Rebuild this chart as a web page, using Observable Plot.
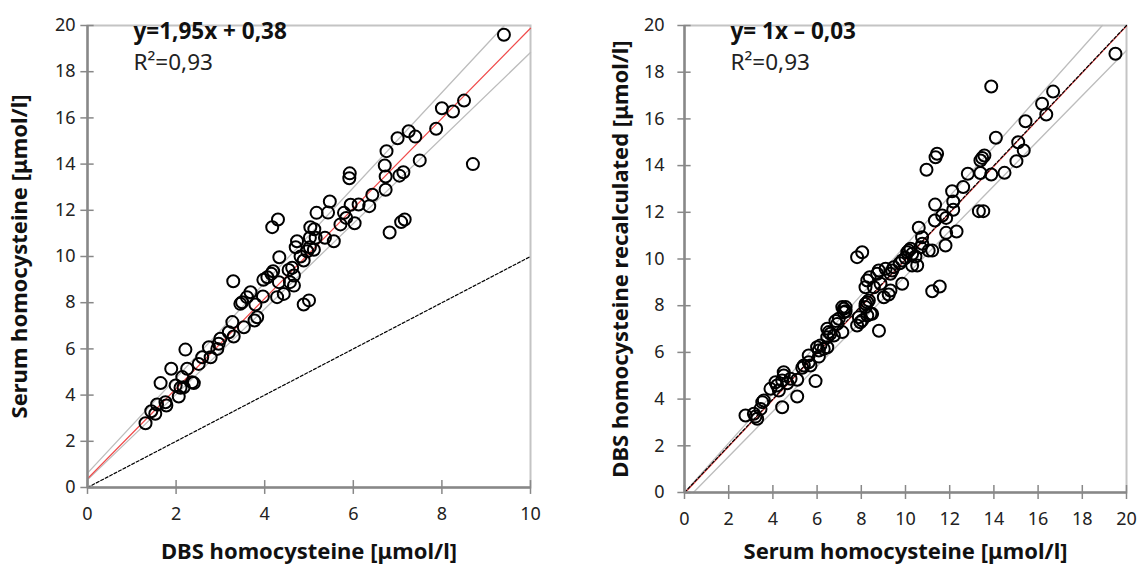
<!DOCTYPE html>
<html>
<head>
<meta charset="utf-8">
<script src="https://cdn.jsdelivr.net/npm/d3@7"></script>
<script src="https://cdn.jsdelivr.net/npm/@observablehq/plot@0.6"></script>
<style>
  html, body { margin: 0; padding: 0; background: #fff; }
  #wrap { display: flex; width: 1137px; height: 566px; }
</style>
</head>
<body>
<div id="wrap"></div>
<script>
// ---------- data ----------
const leftX = [9.4,8.7,8.5,8.25,8.0,7.87,7.5,7.4,7.25,7.0,6.75,6.71,6.73,6.73,7.13,7.04,6.43,6.36,6.12,5.94,5.92,5.91,5.47,5.43,5.17,5.79,5.84,6.03,5.71,6.82,7.08,7.16,5.36,5.56,4.17,4.30,4.33,5.03,5.12,5.02,5.15,4.73,4.70,5.02,5.11,4.96,4.81,4.88,3.29,3.97,4.06,4.15,4.19,4.32,4.54,4.62,4.66,4.57,4.66,4.43,4.28,4.88,5.0,3.96,3.79,3.68,3.6,3.49,3.45,3.83,3.77,3.53,3.27,3.30,3.19,3.0,2.96,2.93,2.74,2.78,2.59,2.51,2.21,1.89,2.25,2.14,1.99,2.10,2.06,2.17,2.36,2.40,1.65,1.76,1.78,1.57,1.44,1.53,1.31];
const leftY = [19.6,14.0,16.75,16.28,16.42,15.53,14.16,15.19,15.42,15.12,14.56,13.94,13.46,12.89,13.65,13.5,12.67,12.18,12.25,12.24,13.6,13.39,12.38,11.9,11.89,11.89,11.67,11.44,11.39,11.04,11.49,11.6,10.81,10.66,11.27,11.6,9.97,11.27,11.18,10.81,10.81,10.66,10.4,10.4,10.29,10.23,10.0,9.83,8.93,8.99,9.1,9.25,9.36,8.89,9.42,9.51,9.18,8.89,8.74,8.38,8.24,7.92,8.1,8.27,7.92,8.45,8.24,8.02,7.95,7.37,7.23,6.94,7.16,6.54,6.72,6.44,6.22,6.0,6.07,5.64,5.64,5.35,5.97,5.14,5.14,4.78,4.42,4.32,3.94,4.34,4.56,4.52,4.52,3.69,3.55,3.59,3.3,3.19,2.78];

const rightX = [19.5,13.88,16.68,16.18,16.37,15.43,14.09,15.1,15.35,15.02,13.57,13.47,13.39,11.43,11.36,10.95,12.82,13.39,13.88,14.48,12.61,12.11,12.16,12.16,11.34,11.66,11.84,11.33,13.32,13.52,10.6,11.84,12.31,10.75,11.81,11.21,10.68,10.23,10.08,8.04,7.81,10.76,11.05,10.15,10.3,10.45,10.0,10.53,10.3,9.85,9.74,9.47,9.1,8.79,8.72,8.38,8.27,9.32,9.4,9.85,8.19,8.57,8.87,9.32,9.24,9.02,8.27,8.19,11.21,11.55,7.29,7.21,7.89,8.04,8.42,7.96,7.81,8.8,2.76,3.14,3.29,3.21,3.52,3.59,3.44,4.42,3.89,4.19,4.27,4.12,4.49,4.49,4.42,4.65,4.8,5.1,5.1,5.93,5.33,5.4,5.62,5.7,6.0,6.15,6.08,6.3,6.46,6.08,5.62,6.46,6.53,6.6,6.76,6.46,7.14,6.83,6.98,6.91,7.14,7.21,7.29,8.27,8.49,8.19,8.34];
const rightY = [18.79,17.39,17.17,16.65,16.19,15.9,15.19,15.0,14.65,14.19,14.43,14.33,14.22,14.51,14.36,13.82,13.65,13.68,13.62,13.69,13.08,12.9,12.46,12.11,12.33,11.86,11.76,11.65,12.05,12.05,11.34,11.12,11.18,10.93,10.58,10.36,10.5,10.44,10.29,10.29,10.08,10.65,10.36,10.36,10.22,10.11,10.05,9.72,9.72,9.94,9.82,9.65,9.58,9.51,9.37,9.22,9.08,9.37,9.51,8.94,8.79,8.79,8.94,8.65,8.48,8.36,8.15,7.94,8.62,8.82,7.94,7.72,7.51,7.37,7.65,7.29,7.15,6.93,3.3,3.37,3.16,3.25,3.87,3.94,3.58,3.65,4.44,4.58,4.37,4.72,5.15,5.01,4.8,4.68,4.87,4.83,4.11,4.77,5.34,5.44,5.58,5.44,6.22,6.3,6.08,6.15,6.22,5.82,5.87,7.01,6.87,6.8,6.72,6.65,6.87,7.34,7.44,7.22,7.94,7.87,7.76,7.58,7.65,8.08,8.22];

// regression / limit lines: [slope, intercept]
const leftFit = [1.95, 0.38];
const leftUpper = [2.06, 0.62];
const leftLower = [1.85, 0.33];
const leftIdentity = [1, 0];
const rightFit = [1, -0.03];
const rightUpper = [1.058, 0];
const rightLower = [0.966, -0.39];
const rightIdentity = [1, 0];

const leftXTicks = [0,2,4,6,8,10];
const leftYTicks = [0,2,4,6,8,10,12,14,16,18,20];
const rightXTicks = [0,2,4,6,8,10,12,14,16,18,20];
const rightYTicks = [0,2,4,6,8,10,12,14,16,18,20];

const leftEq = "y=1,95x + 0,38";
const rightEq = "y= 1x \u2013 0,03";
const r2Text = "R\u00b2=0,93";
const leftXLabel = "DBS homocysteine [\u03bcmol/l]";
const leftYLabel = "Serum homocysteine [\u03bcmol/l]";
const rightXLabel = "Serum homocysteine [\u03bcmol/l]";
const rightYLabel = "DBS homocysteine recalculated [\u03bcmol/l]";

// ---------- helpers ----------
const FONT = "'Noto Sans', 'Open Sans', sans-serif";
function segment([m, b], xmax, ymax) {
  let x0 = 0, y0 = b;
  if (y0 < 0) { x0 = -b / m; y0 = 0; }
  let x1 = xmax, y1 = m * xmax + b;
  if (y1 > ymax) { x1 = (ymax - b) / m; y1 = ymax; }
  return [{x: x0, y: y0}, {x: x1, y: y1}];
}

function panel(o) {
  const pts = o.xs.map((x, i) => ({x, y: o.ys[i]}));
  const {xmax, ymax} = o;
  const txu = o.xTickHalf, tyu = o.yTickHalf;
  return Plot.plot({
    width: o.width, height: 566,
    marginLeft: o.ml, marginRight: o.mr, marginTop: 25, marginBottom: o.mb,
    x: {domain: [0, xmax]},
    y: {domain: [0, ymax]},
    style: {fontFamily: FONT, fontSize: "18px", color: "#222", background: "#fff", overflow: "visible"},
    marks: [
      Plot.frame({stroke: "#c4c4c4", strokeWidth: 2}),
      Plot.line(segment(o.upper, xmax, ymax), {x: "x", y: "y", stroke: "#bdbdbd", strokeWidth: 1.3}),
      Plot.line(segment(o.lower, xmax, ymax), {x: "x", y: "y", stroke: "#bdbdbd", strokeWidth: 1.3}),
      Plot.line(segment(o.fit, xmax, ymax), {x: "x", y: "y", stroke: "#f04b4b", strokeWidth: 1.2}),
      Plot.line(segment(o.identity, o.idmax, ymax), {x: "x", y: "y", stroke: "#000", strokeWidth: 1.2, strokeDasharray: "3,2"}),
      Plot.ruleY([0], {stroke: "#888", strokeWidth: 2.5}),
      Plot.ruleX([0], {stroke: "#888", strokeWidth: 2.5}),
      Plot.ruleX(o.xTicks, {x: d => d, y1: -tyu, y2: tyu, stroke: "#888", strokeWidth: 1.5, clip: false}),
      Plot.ruleY(o.yTicks, {y: d => d, x1: -txu, x2: txu, stroke: "#888", strokeWidth: 1.5, clip: false}),
      Plot.axisX({ticks: o.xTicks, tickSize: 0, tickPadding: o.xPad, label: null, fontSize: 18, tickFormat: d => String(d)}),
      Plot.axisY({ticks: o.yTicks, tickSize: 0, tickPadding: o.yPad, label: null, fontSize: 18, tickFormat: d => String(d)}),
      Plot.dot(pts, {x: "x", y: "y", r: 6, stroke: "#000", strokeWidth: 2, fill: "none"}),
      Plot.text([o.eq], {frameAnchor: "top-left", dx: 46, dy: 6, text: d => d, fontWeight: "bold", fontSize: 22.5, textAnchor: "start", lineAnchor: "middle", fill: "#111"}),
      Plot.text([r2Text], {frameAnchor: "top-left", dx: 46, dy: 37, text: d => d, fontSize: 22.5, textAnchor: "start", lineAnchor: "middle", fill: "#222"}),
      Plot.text([o.xLabel], {frameAnchor: "bottom", dy: o.xLabelDy, text: d => d, fontWeight: "bold", fontSize: 22, textAnchor: "middle", lineAnchor: "middle", fill: "#111"}),
      Plot.text([o.yLabel], {frameAnchor: "left", dx: o.yLabelDx, rotate: -90, text: d => d, fontWeight: "bold", fontSize: 22, textAnchor: "middle", lineAnchor: "middle", fill: "#111"})
    ]
  });
}

const wrap = document.getElementById("wrap");
wrap.append(panel({
  xs: leftX, ys: leftY, width: 568, ml: 87, mr: 38, mb: 79, xmax: 10, ymax: 20,
  fit: leftFit, upper: leftUpper, lower: leftLower, identity: leftIdentity, idmax: 10,
  xTicks: leftXTicks, yTicks: leftYTicks, xTickHalf: 0.15, yTickHalf: 0.3,
  xPad: 20, yPad: 12, eq: leftEq, xLabel: leftXLabel, yLabel: leftYLabel,
  xLabelDy: 64, yLabelDx: -68
}));
wrap.append(panel({
  xs: rightX, ys: rightY, width: 569, ml: 116, mr: 11, mb: 74, xmax: 20, ymax: 20,
  fit: rightFit, upper: rightUpper, lower: rightLower, identity: rightIdentity, idmax: 20,
  xTicks: rightXTicks, yTicks: rightYTicks, xTickHalf: 0.3, yTickHalf: 0.3,
  xPad: 20, yPad: 20, eq: rightEq, xLabel: rightXLabel, yLabel: rightYLabel,
  xLabelDy: 59, yLabelDx: -64
}));
</script>
</body>
</html>
